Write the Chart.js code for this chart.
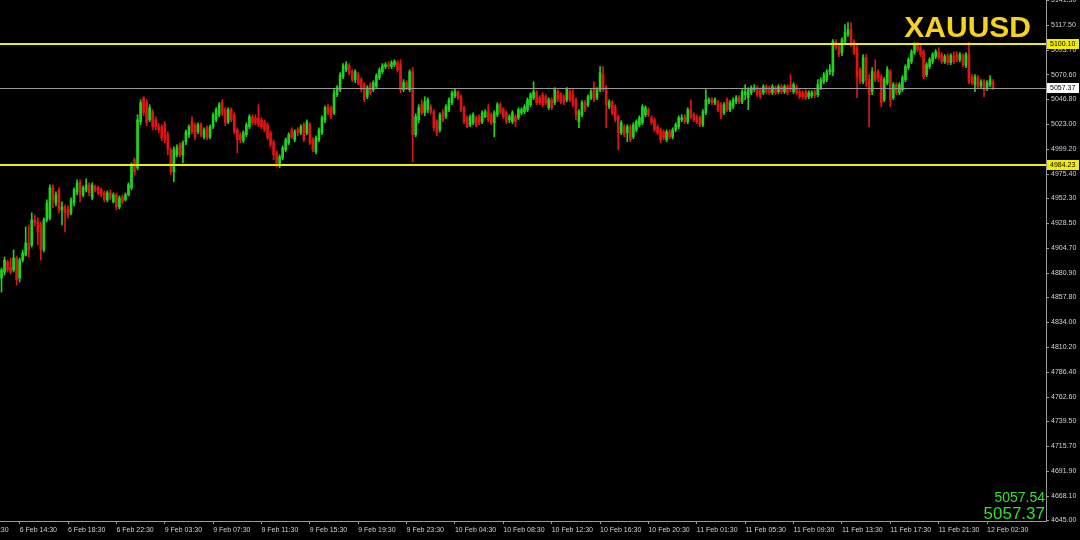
<!DOCTYPE html>
<html lang="en">
<head>
<meta charset="UTF-8">
<title>XAUUSD M15</title>
<style>
  html, body {
    margin: 0;
    padding: 0;
    background: #000;
    overflow: hidden;
  }
  #chart {
    display: block;
  }
</style>
<script src="https://cdn.jsdelivr.net/npm/chart.js"></script>
</head>
<body>
<canvas id="chart" width="1080" height="540"></canvas>
<script>
// ---- data (M15 candles) ----
const openP = [
  4876.4, 4882.1, 4891.7, 4886.9, 4884.1, 4895.5, 4876.4, 4893.6, 4898.4, 4909.9,
  4908.0, 4931.9, 4930.0, 4927.1, 4903.2, 4931.9, 4933.8, 4962.5, 4948.1, 4960.6,
  4941.4, 4944.3, 4941.4, 4938.6, 4948.1, 4958.6, 4967.3, 4955.8, 4960.6, 4965.3,
  4952.9, 4963.4, 4962.5, 4960.6, 4957.7, 4951.0, 4957.7, 4949.1, 4955.8, 4944.3,
  4953.9, 4951.0, 4955.8, 4962.5, 4989.3, 4981.6, 5025.6, 5048.5, 5043.8, 5027.5,
  5035.2, 5027.5, 5020.8, 5020.8, 5022.7, 5013.2, 4998.8, 4977.8, 4994.0, 5003.6,
  4994.0, 5006.5, 5013.2, 5025.6, 5022.7, 5016.0, 5022.7, 5011.2, 5019.9, 5011.2,
  5020.8, 5027.5, 5032.3, 5043.8, 5037.1, 5025.6, 5037.1, 5032.3, 5017.9, 5013.2,
  5007.4, 5013.2, 5020.8, 5030.4, 5029.4, 5029.4, 5027.5, 5025.6, 5022.7, 5015.1,
  5006.5, 4995.9, 4984.5, 4991.2, 4998.8, 5005.5, 5017.9, 5008.4, 5017.9, 5015.1,
  5022.7, 5015.1, 5022.7, 5008.4, 4996.9, 5008.4, 5015.1, 5027.5, 5039.9, 5039.0,
  5034.2, 5051.4, 5056.2, 5068.6, 5075.3, 5079.1, 5073.4, 5065.8, 5070.5, 5065.8,
  5061.0, 5049.5, 5061.0, 5056.2, 5059.1, 5067.7, 5073.4, 5078.2, 5080.1, 5078.2,
  5080.1, 5082.0, 5080.1, 5056.2, 5062.9, 5056.2, 5073.4, 5013.2, 5027.5, 5041.9,
  5034.2, 5037.1, 5039.9, 5035.2, 5025.6, 5017.9, 5034.2, 5030.4, 5037.1, 5043.8,
  5050.5, 5053.3, 5049.5, 5039.0, 5029.4, 5022.7, 5024.6, 5029.4, 5030.4, 5025.6,
  5030.4, 5035.2, 5032.3, 5024.6, 5032.3, 5041.9, 5037.1, 5034.2, 5027.5, 5025.6,
  5030.4, 5029.4, 5034.2, 5035.2, 5037.1, 5041.9, 5048.5, 5053.3, 5048.5, 5051.4,
  5049.5, 5039.0, 5046.6, 5043.8, 5054.3, 5051.4, 5049.5, 5046.6, 5054.3, 5051.4,
  5046.6, 5025.6, 5032.3, 5043.8, 5041.9, 5048.5, 5058.1, 5048.5, 5056.2, 5070.5,
  5058.1, 5039.9, 5043.8, 5039.9, 5030.4, 5015.1, 5020.8, 5015.1, 5020.8, 5011.2,
  5017.9, 5022.7, 5024.6, 5032.3, 5037.1, 5029.4, 5027.5, 5020.8, 5017.9, 5016.0,
  5008.4, 5016.0, 5011.2, 5017.9, 5020.8, 5027.5, 5030.4, 5025.6, 5037.1, 5032.3,
  5030.4, 5029.4, 5022.7, 5034.2, 5044.7, 5046.6, 5043.8, 5043.8, 5041.9, 5034.2,
  5046.6, 5037.1, 5039.9, 5044.7, 5048.5, 5044.7, 5051.4, 5048.5, 5053.3, 5056.2,
  5058.1, 5056.2, 5053.3, 5059.1, 5058.1, 5053.3, 5058.1, 5054.3, 5059.1, 5054.3,
  5059.1, 5061.0, 5054.3, 5059.1, 5054.3, 5053.3, 5054.3, 5049.5, 5050.5, 5054.3,
  5051.4, 5058.1, 5063.8, 5065.8, 5073.4, 5073.4, 5102.1, 5097.3, 5091.6, 5102.1,
  5108.8, 5113.6, 5102.1, 5096.4, 5075.3, 5063.8, 5086.8, 5065.8, 5054.3, 5073.4,
  5073.4, 5068.6, 5046.6, 5062.9, 5073.4, 5048.5, 5061.0, 5053.3, 5056.2, 5065.8,
  5077.2, 5083.0, 5091.6, 5099.2, 5096.4, 5092.5, 5070.5, 5078.2, 5083.0, 5087.8,
  5092.5, 5089.7, 5083.0, 5088.7, 5082.0, 5088.7, 5089.7, 5084.9, 5088.7, 5079.1,
  5089.7, 5068.6, 5061.0, 5067.7, 5060.0, 5063.8, 5057.2, 5061.0, 5063.8
];
const highP = [
  4886.0, 4896.5, 4893.6, 4895.5, 4903.2, 4897.4, 4895.5, 4903.2, 4925.2, 4927.1,
  4938.6, 4936.7, 4933.8, 4930.0, 4933.8, 4951.0, 4965.3, 4965.3, 4958.6, 4962.5,
  4949.1, 4946.2, 4945.3, 4952.9, 4962.5, 4970.1, 4970.1, 4964.4, 4971.1, 4967.3,
  4967.3, 4965.3, 4964.4, 4962.5, 4959.6, 4959.6, 4960.6, 4957.7, 4957.7, 4954.8,
  4955.8, 4957.7, 4967.3, 4986.4, 4991.2, 5032.3, 5046.6, 5049.5, 5046.6, 5041.9,
  5037.1, 5030.4, 5023.7, 5022.7, 5025.6, 5016.0, 5000.7, 5001.7, 5003.6, 5005.5,
  5007.4, 5017.9, 5022.7, 5030.4, 5024.6, 5024.6, 5024.6, 5019.9, 5021.8, 5022.7,
  5034.2, 5039.0, 5043.8, 5046.6, 5039.0, 5039.0, 5039.0, 5034.2, 5019.9, 5015.1,
  5017.0, 5024.6, 5032.3, 5032.3, 5032.3, 5041.9, 5029.4, 5027.5, 5024.6, 5017.0,
  5008.4, 4997.9, 4994.0, 5002.6, 5010.3, 5015.1, 5019.9, 5017.9, 5019.9, 5022.7,
  5024.6, 5027.5, 5024.6, 5010.3, 5012.2, 5019.9, 5031.3, 5040.9, 5041.9, 5040.9,
  5056.2, 5060.0, 5072.5, 5081.1, 5083.0, 5081.1, 5075.3, 5075.3, 5072.5, 5067.7,
  5062.9, 5060.0, 5062.9, 5064.8, 5071.5, 5077.2, 5081.1, 5082.0, 5083.0, 5083.9,
  5084.9, 5083.9, 5084.9, 5065.8, 5064.8, 5075.3, 5077.2, 5033.2, 5041.9, 5046.6,
  5049.5, 5048.5, 5041.9, 5037.1, 5027.5, 5034.2, 5037.1, 5041.9, 5048.5, 5055.2,
  5057.2, 5055.2, 5051.4, 5040.9, 5031.3, 5032.3, 5034.2, 5031.3, 5032.3, 5036.1,
  5037.1, 5041.9, 5034.2, 5036.1, 5043.8, 5043.8, 5039.0, 5036.1, 5032.3, 5036.1,
  5032.3, 5039.0, 5039.0, 5041.9, 5048.5, 5053.3, 5063.8, 5055.2, 5050.5, 5053.3,
  5051.4, 5048.5, 5048.5, 5058.1, 5056.2, 5053.3, 5051.4, 5058.1, 5056.2, 5056.2,
  5048.5, 5037.1, 5045.7, 5045.7, 5051.4, 5056.2, 5063.8, 5058.1, 5078.2, 5078.2,
  5060.0, 5046.6, 5045.7, 5041.9, 5032.3, 5026.5, 5022.7, 5022.7, 5022.7, 5024.6,
  5027.5, 5031.3, 5041.9, 5040.9, 5039.0, 5031.3, 5029.4, 5022.7, 5019.9, 5017.9,
  5017.9, 5017.9, 5019.9, 5024.6, 5031.3, 5032.3, 5032.3, 5039.0, 5046.6, 5034.2,
  5032.3, 5031.3, 5037.1, 5056.2, 5048.5, 5048.5, 5048.5, 5045.7, 5043.8, 5043.8,
  5048.5, 5045.7, 5048.5, 5050.5, 5050.5, 5056.2, 5061.0, 5058.1, 5060.0, 5061.0,
  5060.0, 5058.1, 5061.0, 5061.0, 5060.0, 5061.0, 5060.0, 5061.0, 5061.0, 5061.0,
  5061.0, 5070.5, 5062.9, 5061.0, 5056.2, 5055.2, 5056.2, 5055.2, 5055.2, 5056.2,
  5065.8, 5067.7, 5072.5, 5075.3, 5080.1, 5104.0, 5104.0, 5099.2, 5105.9, 5118.4,
  5120.3, 5120.3, 5104.0, 5098.3, 5077.2, 5089.7, 5089.7, 5070.5, 5077.2, 5084.9,
  5075.3, 5070.5, 5067.7, 5078.2, 5075.3, 5062.9, 5062.9, 5062.9, 5069.6, 5080.1,
  5086.8, 5094.4, 5101.1, 5101.1, 5098.3, 5094.4, 5082.0, 5086.8, 5091.6, 5094.4,
  5096.4, 5091.6, 5089.7, 5090.6, 5090.6, 5092.5, 5092.5, 5091.6, 5090.6, 5091.6,
  5101.1, 5070.5, 5070.5, 5069.6, 5065.8, 5065.8, 5064.8, 5069.6, 5065.8
];
const lowP = [
  4863.0, 4879.3, 4882.1, 4880.2, 4882.1, 4869.7, 4872.6, 4891.7, 4897.4, 4896.5,
  4906.1, 4926.1, 4908.0, 4893.6, 4901.3, 4930.0, 4931.9, 4943.4, 4945.3, 4938.6,
  4927.1, 4920.4, 4933.8, 4936.7, 4945.3, 4955.8, 4949.1, 4953.9, 4958.6, 4954.8,
  4951.0, 4958.6, 4955.8, 4953.9, 4949.1, 4949.1, 4951.0, 4948.1, 4941.4, 4942.4,
  4947.2, 4950.0, 4954.8, 4960.6, 4974.9, 4979.7, 5022.7, 5031.3, 5021.8, 5025.6,
  5017.9, 5017.9, 5015.1, 5007.4, 5005.5, 4994.0, 4974.9, 4968.2, 4992.1, 4992.1,
  4986.4, 5003.6, 5010.3, 5014.1, 5008.4, 5014.1, 5011.2, 5009.3, 5008.4, 5009.3,
  5018.9, 5025.6, 5030.4, 5031.3, 5021.8, 5023.7, 5025.6, 5014.1, 4995.9, 5005.5,
  5005.5, 5011.2, 5018.9, 5022.7, 5022.7, 5020.8, 5018.9, 5016.0, 5008.4, 5001.7,
  4989.3, 4982.6, 4981.6, 4989.3, 4996.9, 5003.6, 5009.3, 5006.5, 5012.2, 5013.2,
  5006.5, 5013.2, 5003.6, 4996.9, 4995.0, 5006.5, 5013.2, 5024.6, 5032.3, 5028.5,
  5032.3, 5049.5, 5054.3, 5066.7, 5073.4, 5070.5, 5063.8, 5062.9, 5061.0, 5054.3,
  5044.7, 5047.6, 5051.4, 5054.3, 5057.2, 5065.8, 5071.5, 5076.3, 5076.3, 5076.3,
  5078.2, 5073.4, 5053.3, 5054.3, 5056.2, 5054.3, 4987.3, 5011.2, 5024.6, 5032.3,
  5031.3, 5034.2, 5033.2, 5017.0, 5012.2, 5016.0, 5025.6, 5028.5, 5035.2, 5041.9,
  5048.5, 5046.6, 5035.2, 5023.7, 5019.9, 5020.8, 5022.7, 5020.8, 5022.7, 5023.7,
  5029.4, 5025.6, 5022.7, 5011.2, 5030.4, 5033.2, 5028.5, 5023.7, 5024.6, 5023.7,
  5020.8, 5027.5, 5032.3, 5033.2, 5035.2, 5039.9, 5046.6, 5041.9, 5041.9, 5039.9,
  5041.9, 5037.1, 5037.1, 5041.9, 5044.7, 5042.8, 5041.9, 5044.7, 5044.7, 5039.9,
  5027.5, 5019.9, 5030.4, 5035.2, 5039.9, 5046.6, 5044.7, 5046.6, 5054.3, 5054.3,
  5019.9, 5038.0, 5032.3, 5025.6, 4998.8, 5013.2, 5011.2, 5006.5, 5006.5, 5009.3,
  5016.0, 5020.8, 5022.7, 5030.4, 5030.4, 5022.7, 5016.0, 5013.2, 5005.5, 5008.4,
  5006.5, 5009.3, 5009.3, 5016.0, 5018.9, 5025.6, 5023.7, 5023.7, 5028.5, 5025.6,
  5023.7, 5020.8, 5020.8, 5032.3, 5042.8, 5041.9, 5041.9, 5035.2, 5028.5, 5032.3,
  5035.2, 5035.2, 5038.0, 5042.8, 5042.8, 5042.8, 5046.6, 5037.1, 5051.4, 5054.3,
  5049.5, 5047.6, 5051.4, 5052.4, 5051.4, 5051.4, 5051.4, 5052.4, 5052.4, 5052.4,
  5051.4, 5054.3, 5052.4, 5051.4, 5047.6, 5047.6, 5046.6, 5047.6, 5048.5, 5048.5,
  5049.5, 5056.2, 5061.9, 5063.8, 5070.5, 5069.6, 5094.4, 5087.8, 5088.7, 5100.2,
  5106.9, 5097.3, 5089.7, 5048.5, 5061.9, 5061.9, 5059.1, 5020.8, 5051.4, 5063.8,
  5063.8, 5039.9, 5044.7, 5061.0, 5039.9, 5046.6, 5051.4, 5051.4, 5054.3, 5063.8,
  5075.3, 5081.1, 5089.7, 5092.5, 5087.8, 5066.7, 5068.6, 5076.3, 5081.1, 5085.8,
  5084.9, 5081.1, 5081.1, 5080.1, 5080.1, 5081.1, 5083.0, 5083.0, 5078.2, 5077.2,
  5061.9, 5061.0, 5054.3, 5057.2, 5058.1, 5049.5, 5055.2, 5059.1, 5056.2
];
const closeP = [
  4884.1, 4893.6, 4884.1, 4882.1, 4895.5, 4874.5, 4893.6, 4900.3, 4909.9, 4903.2,
  4931.9, 4929.0, 4920.4, 4903.2, 4931.9, 4948.1, 4962.5, 4951.0, 4955.8, 4941.4,
  4944.3, 4938.6, 4936.7, 4951.0, 4960.6, 4967.3, 4955.8, 4962.5, 4965.3, 4957.7,
  4965.3, 4960.6, 4957.7, 4955.8, 4951.0, 4957.7, 4952.9, 4955.8, 4944.3, 4952.9,
  4949.1, 4955.8, 4965.3, 4984.5, 4977.8, 5027.5, 5043.8, 5034.2, 5024.6, 5039.0,
  5020.8, 5020.8, 5017.9, 5010.3, 5008.4, 4998.8, 4977.8, 4998.8, 5000.7, 4994.0,
  5005.5, 5016.0, 5020.8, 5016.0, 5011.2, 5022.7, 5013.2, 5017.9, 5010.3, 5020.8,
  5032.3, 5037.1, 5041.9, 5034.2, 5024.6, 5037.1, 5027.5, 5016.0, 5008.4, 5008.4,
  5015.1, 5022.7, 5030.4, 5024.6, 5024.6, 5022.7, 5020.8, 5017.9, 5010.3, 5003.6,
  4994.0, 4986.4, 4992.1, 5000.7, 5008.4, 5013.2, 5011.2, 5016.0, 5015.1, 5020.8,
  5008.4, 5025.6, 5005.5, 4998.8, 5010.3, 5017.9, 5029.4, 5039.0, 5034.2, 5030.4,
  5053.3, 5058.1, 5070.5, 5079.1, 5080.1, 5072.5, 5065.8, 5073.4, 5062.9, 5056.2,
  5046.6, 5058.1, 5053.3, 5062.9, 5069.6, 5075.3, 5079.1, 5080.1, 5078.2, 5082.0,
  5083.0, 5075.3, 5056.2, 5062.9, 5058.1, 5073.4, 5013.2, 5030.4, 5039.0, 5034.2,
  5044.7, 5046.6, 5035.2, 5019.9, 5015.1, 5032.3, 5027.5, 5039.9, 5046.6, 5053.3,
  5054.3, 5048.5, 5037.1, 5025.6, 5020.8, 5030.4, 5032.3, 5022.7, 5024.6, 5034.2,
  5035.2, 5027.5, 5024.6, 5034.2, 5041.9, 5035.2, 5030.4, 5025.6, 5030.4, 5034.2,
  5025.6, 5037.1, 5037.1, 5039.9, 5046.6, 5051.4, 5054.3, 5043.8, 5043.8, 5041.9,
  5043.8, 5046.6, 5039.0, 5056.2, 5046.6, 5044.7, 5043.8, 5056.2, 5046.6, 5041.9,
  5032.3, 5035.2, 5043.8, 5037.1, 5049.5, 5054.3, 5046.6, 5056.2, 5072.5, 5056.2,
  5041.9, 5044.7, 5034.2, 5027.5, 5015.1, 5024.6, 5013.2, 5020.8, 5008.4, 5022.7,
  5025.6, 5029.4, 5039.9, 5039.0, 5032.3, 5024.6, 5017.9, 5015.1, 5008.4, 5010.3,
  5016.0, 5011.2, 5017.9, 5022.7, 5029.4, 5029.4, 5025.6, 5037.1, 5030.4, 5027.5,
  5025.6, 5022.7, 5035.2, 5046.6, 5046.6, 5043.8, 5046.6, 5037.1, 5030.4, 5041.9,
  5037.1, 5043.8, 5046.6, 5048.5, 5044.7, 5054.3, 5054.3, 5056.2, 5058.1, 5058.1,
  5051.4, 5049.5, 5059.1, 5054.3, 5053.3, 5059.1, 5053.3, 5059.1, 5054.3, 5059.1,
  5053.3, 5056.2, 5061.0, 5053.3, 5049.5, 5049.5, 5048.5, 5053.3, 5053.3, 5050.5,
  5061.0, 5065.8, 5070.5, 5073.4, 5075.3, 5102.1, 5096.4, 5089.7, 5104.0, 5110.7,
  5113.6, 5099.2, 5091.6, 5068.6, 5063.8, 5086.8, 5065.8, 5051.4, 5073.4, 5065.8,
  5067.7, 5043.8, 5065.8, 5075.3, 5046.6, 5061.0, 5053.3, 5061.0, 5067.7, 5078.2,
  5084.9, 5092.5, 5099.2, 5094.4, 5089.7, 5068.6, 5080.1, 5084.9, 5089.7, 5092.5,
  5086.8, 5083.0, 5087.8, 5082.0, 5088.7, 5083.0, 5084.9, 5089.7, 5080.1, 5089.7,
  5063.8, 5062.9, 5068.6, 5059.1, 5063.8, 5056.2, 5062.9, 5065.8, 5057.37
];

// price axis ticks and time axis labels (one every 16 bars)
const priceTicks = [5141.30, 5117.50, 5093.70, 5070.60, 5046.80, 5023.00, 4999.20, 4975.40,
  4952.30, 4928.50, 4904.70, 4880.90, 4857.80, 4834.00, 4810.20, 4786.40, 4762.60,
  4739.50, 4715.70, 4691.90, 4668.10, 4645.00];
const timeLabels = ['6 Feb 10:30', '6 Feb 14:30', '6 Feb 18:30', '6 Feb 22:30', '9 Feb 03:30',
  '9 Feb 07:30', '9 Feb 11:30', '9 Feb 15:30', '9 Feb 19:30', '9 Feb 23:30', '10 Feb 04:30',
  '10 Feb 08:30', '10 Feb 12:30', '10 Feb 16:30', '10 Feb 20:30', '11 Feb 01:30', '11 Feb 05:30',
  '11 Feb 09:30', '11 Feb 13:30', '11 Feb 17:30', '11 Feb 21:30', '12 Feb 02:30'];

const levelLines = [5100.10, 4984.23];
const bidPrice = 5057.37;
const askPrice = 5057.54;
const symbol = 'XAUUSD';

// ---- build chart ----
const UP = '#1fd41f';
const DOWN = '#e01414';
const FONT = "'Liberation Sans', Arial, sans-serif";
const firstTick = -10;   // bar index of first time label
const barsPerLabel = 16;
const emptyBars = 17;    // chart shift on the right

const idx = closeP.map((_, i) => i);
const candleColors = idx.map(i => closeP[i] >= openP[i] ? UP : DOWN);
const wickData = idx.map(i => ({ x: i, y: [lowP[i], highP[i]] }));
const bodyData = idx.map(i => ({ x: i, y: [openP[i], closeP[i]] }));

const overlay = {
  id: 'overlay',
  afterDatasetsDraw(chart) {
    const { ctx, chartArea, scales } = chart;
    const y = scales.y;
    ctx.save();
    levelLines.forEach(v => {
      const py = Math.round(y.getPixelForValue(v));
      ctx.strokeStyle = '#f2ee00';
      ctx.lineWidth = 2;
      ctx.beginPath();
      ctx.moveTo(chartArea.left, py);
      ctx.lineTo(chartArea.right, py);
      ctx.stroke();
    });
    const pb = Math.round(y.getPixelForValue(bidPrice)) + 0.5;
    ctx.strokeStyle = '#9a9a9a';
    ctx.lineWidth = 1;
    ctx.beginPath();
    ctx.moveTo(chartArea.left, pb);
    ctx.lineTo(chartArea.right, pb);
    ctx.stroke();
    ctx.restore();
  },
  afterDraw(chart) {
    const { ctx, chartArea, scales } = chart;
    const y = scales.y;
    ctx.save();
    // price tags on the axis
    const tag = (v, fill) => {
      const py = Math.round(y.getPixelForValue(v));
      ctx.fillStyle = fill;
      ctx.fillRect(chartArea.right + 1, py - 5, 32, 10);
      ctx.fillStyle = '#000';
      ctx.font = '7px ' + FONT;
      ctx.textAlign = 'left';
      ctx.textBaseline = 'middle';
      ctx.fillText(v.toFixed(2), chartArea.right + 4, py + 0.5);
    };
    levelLines.forEach(v => tag(v, '#f2ee00'));
    tag(bidPrice, '#ffffff');

    // symbol title
    ctx.fillStyle = '#f5d31c';
    ctx.font = 'bold 30px ' + FONT;
    ctx.textAlign = 'right';
    ctx.textBaseline = 'alphabetic';
    ctx.fillText(symbol, 1031, 37);

    // ask / bid readout
    ctx.fillStyle = '#33e033';
    ctx.font = '14px ' + FONT;
    ctx.textBaseline = 'middle';
    ctx.fillText(askPrice.toFixed(2), chartArea.right - 1, 498);
    ctx.font = '17px ' + FONT;
    ctx.fillText(bidPrice.toFixed(2), chartArea.right - 1, 514);
    ctx.restore();
  }
};

new Chart(document.getElementById('chart'), {
  type: 'bar',
  data: {
    datasets: [
      {
        data: wickData,
        backgroundColor: candleColors,
        barThickness: 1,
        grouped: false,
        borderWidth: 0,
        order: 2
      },
      {
        data: bodyData,
        backgroundColor: candleColors,
        barThickness: 2,
        minBarLength: 1,
        grouped: false,
        borderWidth: 0,
        order: 1
      }
    ]
  },
  options: {
    responsive: false,
    devicePixelRatio: 1,
    animation: false,
    events: [],
    layout: { padding: 0, autoPadding: false },
    plugins: {
      legend: { display: false },
      tooltip: { enabled: false }
    },
    scales: {
      x: {
        type: 'linear',
        min: -0.5,
        max: closeP.length + emptyBars - 0.5,
        offset: false,
        afterBuildTicks: scale => {
          scale.ticks = timeLabels.map((_, k) => ({ value: firstTick + k * barsPerLabel }));
        },
        afterFit: scale => {
          scale.height = 19;
          scale.paddingLeft = 0;
          scale.paddingRight = 0;
        },
        grid: { drawOnChartArea: false, offset: false, tickLength: 3, color: '#9a9a9a' },
        border: { color: '#9a9a9a' },
        ticks: {
          autoSkip: false,
          maxRotation: 0,
          align: 'start',
          padding: 2,
          color: '#d2d2d2',
          font: { family: FONT, size: 7 },
          callback: (v, k) => timeLabels[k]
        }
      },
      y: {
        position: 'right',
        min: 4644.5,
        max: 5141.8,
        beginAtZero: false,
        afterBuildTicks: scale => {
          scale.ticks = priceTicks.map(v => ({ value: v }));
        },
        afterFit: scale => {
          scale.width = 34;
          scale.paddingTop = 0;
          scale.paddingBottom = 0;
        },
        grid: { drawOnChartArea: false, tickLength: 3, color: '#9a9a9a' },
        border: { color: '#9a9a9a' },
        ticks: {
          autoSkip: false,
          padding: 2,
          color: '#d2d2d2',
          font: { family: FONT, size: 7 },
          callback: v => v.toFixed(2)
        }
      }
    }
  },
  plugins: [overlay]
});
</script>
</body>
</html>
